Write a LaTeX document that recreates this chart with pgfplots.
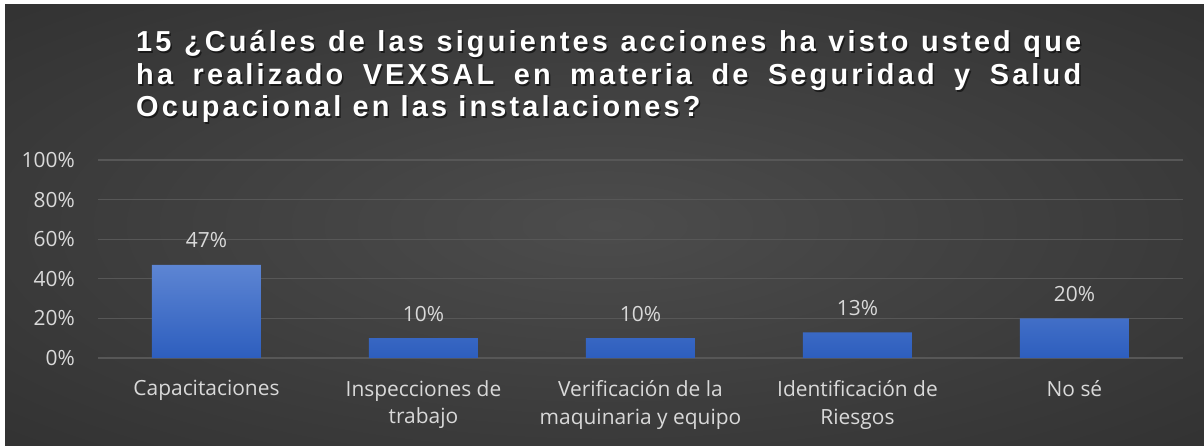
\documentclass[border=0pt]{standalone}
\usepackage{pgfplots}
\pgfplotsset{compat=1.18}
\usepackage{fontspec}
\setmainfont{Open Sans}
\newfontfamily\titlefont{Liberation Sans}[LetterSpace=11]
\definecolor{bgin}{HTML}{4C4C4C}
\definecolor{bgmid}{HTML}{3C3C3C}
\definecolor{bgout}{HTML}{282828}
\definecolor{bgcorner}{HTML}{1F1F1F}
\definecolor{bartop}{HTML}{5D85D3}
\definecolor{barbot}{HTML}{2D5EBE}
\definecolor{gridc}{HTML}{575757}
\definecolor{axisc}{HTML}{A6A6A6}
\definecolor{labc}{HTML}{D9D9D9}
\pgfdeclareradialshading{bgshade}{\pgfpoint{0bp}{0bp}}{color(0bp)=(bgin); color(22bp)=(bgmid); color(50bp)=(bgout); color(72bp)=(bgcorner)}
\begin{document}
\begin{tikzpicture}
\useasboundingbox (0,0) rectangle (1204bp,446bp);
\fill[white] (0,0) rectangle (1204bp,446bp);
\shade[shading=bgshade] (5bp,0) rectangle (1204bp,441bp);
% title
\foreach \yy/\txt/\mode in {394/{15 ¿Cuáles de las siguientes acciones ha visto usted que}/s, 361/{ha realizado VEXSAL en materia de Seguridad y Salud}/s, 329/{Ocupacional en las instalaciones?}/l}{
  \node[anchor=base west, inner sep=0, text=black, opacity=0.55] at (137.5bp,\yy bp-1.5bp) {\titlefont\bfseries\fontsize{29}{32}\selectfont\makebox[945bp][\mode]{\txt}};
  \node[anchor=base west, inner sep=0, text=white] at (136bp,\yy bp) {\titlefont\bfseries\fontsize{29}{32}\selectfont\makebox[945bp][\mode]{\txt}};
}
\begin{axis}[
  scale only axis,
  width=1085bp, height=198bp,
  at={(98bp,88bp)}, anchor=south west,
  xmin=-0.5, xmax=4.5, ymin=0, ymax=100,
  axis line style={draw=none},
  major tick length=0,
  ytick={0,20,40,60,80,100},
  yticklabel={\pgfmathprintnumber{\tick}\%},
  /pgf/number format/assume math mode=true,
  ymajorgrids, major grid style={color=gridc, line width=1.3bp},
  extra y ticks={0}, extra y tick labels={},
  extra y tick style={grid style={color=axisc, line width=2bp}},
  yticklabel style={font=\fontsize{21}{24}\selectfont, text=labc, anchor=east, inner sep=0, xshift=-23bp},
  xtick={0,1,2,3,4},
  xticklabels={Capacitaciones, {Inspecciones de\\trabajo}, {Verificación de la\\maquinaria y equipo}, {Identificación de\\Riesgos}, No sé},
  xticklabel style={font=\fontsize{21}{28}\selectfont, text=labc, align=center, anchor=north, inner sep=0, yshift=-22bp},
  clip=false,
]
\addplot[ybar, bar width=109bp, draw=none, top color=bartop, bottom color=barbot,
  nodes near coords={\pgfmathprintnumber{\pgfplotspointmeta}\%},
  nodes near coords style={font=\fontsize{21}{24}\selectfont, text=labc, anchor=base, yshift=17bp, /pgf/number format/assume math mode=true},
] coordinates {(0,47) (1,10) (2,10) (3,13) (4,20)};
\end{axis}
\end{tikzpicture}
\end{document}
